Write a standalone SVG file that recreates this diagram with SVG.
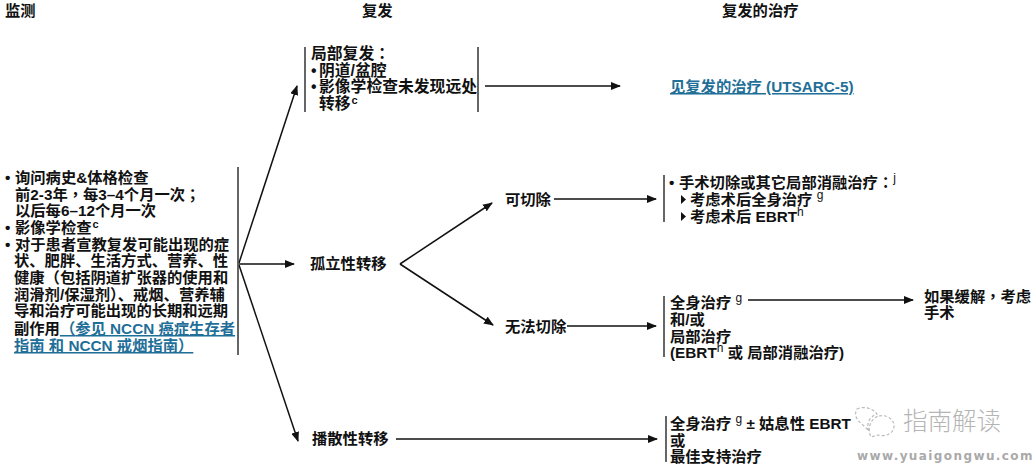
<svg xmlns="http://www.w3.org/2000/svg" width="1035" height="467" viewBox="0 0 1035 467">
<style>
text{font-family:"Liberation Sans","Noto Sans CJK SC",sans-serif;font-size:15.300px;font-weight:700;fill:#111}
.l{fill:#1f6f98}
.p{font-family:"Noto Sans CJK TC",sans-serif}
.s{font-size:11px}
.t{font-size:12px;font-weight:400}
.k text{font-size:15.800px}
.c line{stroke:#111;stroke-width:1.5;fill:none}
.b{stroke:#333;stroke-width:1.5}
.w{font-family:"Noto Sans CJK SC",sans-serif;font-size:24.500px;font-weight:300;fill:#b5b5b5}
.u{font-family:"DejaVu Sans",sans-serif;font-size:12px;font-weight:700;fill:#aaa;letter-spacing:1.4px}
</style>
<defs><marker id="a" markerWidth="12" markerHeight="8" refX="9" refY="4" orient="auto" markerUnits="userSpaceOnUse"><path d="M0 0L10 4L0 8Z" fill="#111"/></marker></defs>
<g id="headers"><text x="5" y="16">监测</text><text x="362" y="16">复发</text><text x="722" y="16">复发的治疗</text></g>
<g id="connectors" class="c">
<line x1="239" y1="263" x2="297" y2="86" marker-end="url(#a)"/>
<line x1="239" y1="264" x2="294" y2="264" marker-end="url(#a)"/>
<line x1="239" y1="265" x2="298" y2="441" marker-end="url(#a)"/>
<line x1="485" y1="86" x2="620" y2="86" marker-end="url(#a)"/>
<line x1="400" y1="264" x2="492" y2="203" marker-end="url(#a)"/>
<line x1="400" y1="264" x2="493" y2="325" marker-end="url(#a)"/>
<line x1="554" y1="199" x2="656" y2="199" marker-end="url(#a)"/>
<line x1="567" y1="326" x2="656" y2="326" marker-end="url(#a)"/>
<line x1="396" y1="439" x2="657" y2="439" marker-end="url(#a)"/>
<line x1="748" y1="300" x2="913" y2="300" marker-end="url(#a)"/>
</g>
<g id="n-monitor">
<line class="b" x1="238" y1="167" x2="238" y2="355"/>
<text x="5" y="183">•</text><text x="15" y="183">询问病史&amp;体格检查</text>
<text x="15" y="200">前2-3年<tspan class="p">，</tspan>每3–4个月一次<tspan class="p">；</tspan></text>
<text x="15" y="216">以后每6–12个月一次</text>
<text x="5" y="233">•</text><text x="15" y="233">影像学检查<tspan class="s" dy="-5" dx="1">c</tspan></text>
<text x="5" y="250">•</text><text x="15" y="250">对于患者宣教复发可能出现的症</text>
<text x="14" y="266">状、肥胖、生活方式、营养、性</text>
<text x="14" y="283">健康<tspan class="p">（</tspan>包括阴道扩张器的使用和</text>
<text x="14" y="300">润滑剂/保湿剂<tspan class="p">）</tspan>、戒烟、营养辅</text>
<text x="14" y="316">导和治疗可能出现的长期和远期</text>
<text x="14" y="334">副作用<tspan class="l p" text-decoration="underline">（</tspan><tspan class="l" text-decoration="underline">参见 NCCN 癌症生存者</tspan></text>
<text class="l" x="14" y="351" text-decoration="underline">指南 和 NCCN 戒烟指南<tspan class="p">）</tspan></text>
</g>
<g id="n-local" class="k">
<line class="b" x1="305" y1="47" x2="305" y2="112"/><line class="b" x1="478" y1="47" x2="478" y2="112"/>
<text x="311" y="59">局部复发<tspan class="p">：</tspan></text>
<text x="311" y="76">•</text><text x="319" y="76">阴道/盆腔</text>
<text x="311" y="92">•</text><text x="319" y="92">影像学检查未发现远处</text>
<text x="319" y="109">转移<tspan class="s" dy="-5" dx="1">c</tspan></text>
</g>
<g id="n-treat-local"><text class="l" x="670" y="92" text-decoration="underline">见复发的治疗 (UTSARC-5)</text></g>
<g id="n-isolated"><text x="310" y="269">孤立性转移</text></g>
<g id="n-resectable"><text x="505" y="205">可切除</text></g>
<g id="n-unresectable"><text x="505" y="332">无法切除</text></g>
<g id="n-disseminated"><text x="312" y="444">播散性转移</text></g>
<g id="n-surgery">
<line class="b" x1="664" y1="175" x2="664" y2="222"/>
<text x="669" y="188">•</text><text x="679" y="188">手术切除或其它局部消融治疗<tspan class="p">：</tspan><tspan class="t" dy="-6">j</tspan></text>
<path d="M681 195L686 199.500L681 204Z" fill="#111"/><text x="690" y="205">考虑术后全身治疗 <tspan class="t" dy="-6">g</tspan></text>
<path d="M681 212L686 216.500L681 221Z" fill="#111"/><text x="690" y="222">考虑术后 EBRT<tspan class="t" dy="-6">h</tspan></text>
</g>
<g id="n-systemic">
<line class="b" x1="664" y1="296" x2="664" y2="357"/>
<text x="670" y="308">全身治疗 <tspan class="t" dy="-6">g</tspan></text>
<text x="670" y="325">和/或</text>
<text x="670" y="342">局部治疗</text>
<text x="670" y="358">(EBRT<tspan class="t" dy="-6">h</tspan><tspan dy="6"> 或 局部消融治疗)</tspan></text>
</g>
<g id="n-remission"><text x="924" y="302">如果缓解<tspan class="p">，</tspan>考虑</text><text x="924" y="318">手术</text></g>
<g id="n-palliative">
<line class="b" x1="666" y1="416" x2="666" y2="462"/>
<text x="670" y="429">全身治疗 <tspan class="t" dy="-6">g</tspan><tspan dy="6"> ± 姑息性 EBRT</tspan></text>
<text x="670" y="446">或</text>
<text x="670" y="462">最佳支持治疗</text>
</g>
<g id="watermark">
<g fill="none" stroke="#bbb" stroke-width="1.200" stroke-dasharray="3 2"><path d="M857 409C863 406 873 408 877 414C869 417 866 424 869 431L862 424C856 420 854 414 857 409Z"/><path d="M879 416C887 414 895 420 894 427C893 434 885 437 878 435L871 437C867 430 870 418 879 416Z"/></g>
<text class="w" x="903" y="430">指南解读</text>
<text class="u" x="857" y="460">www.yuaigongwu.com</text>
</g>
</svg>
